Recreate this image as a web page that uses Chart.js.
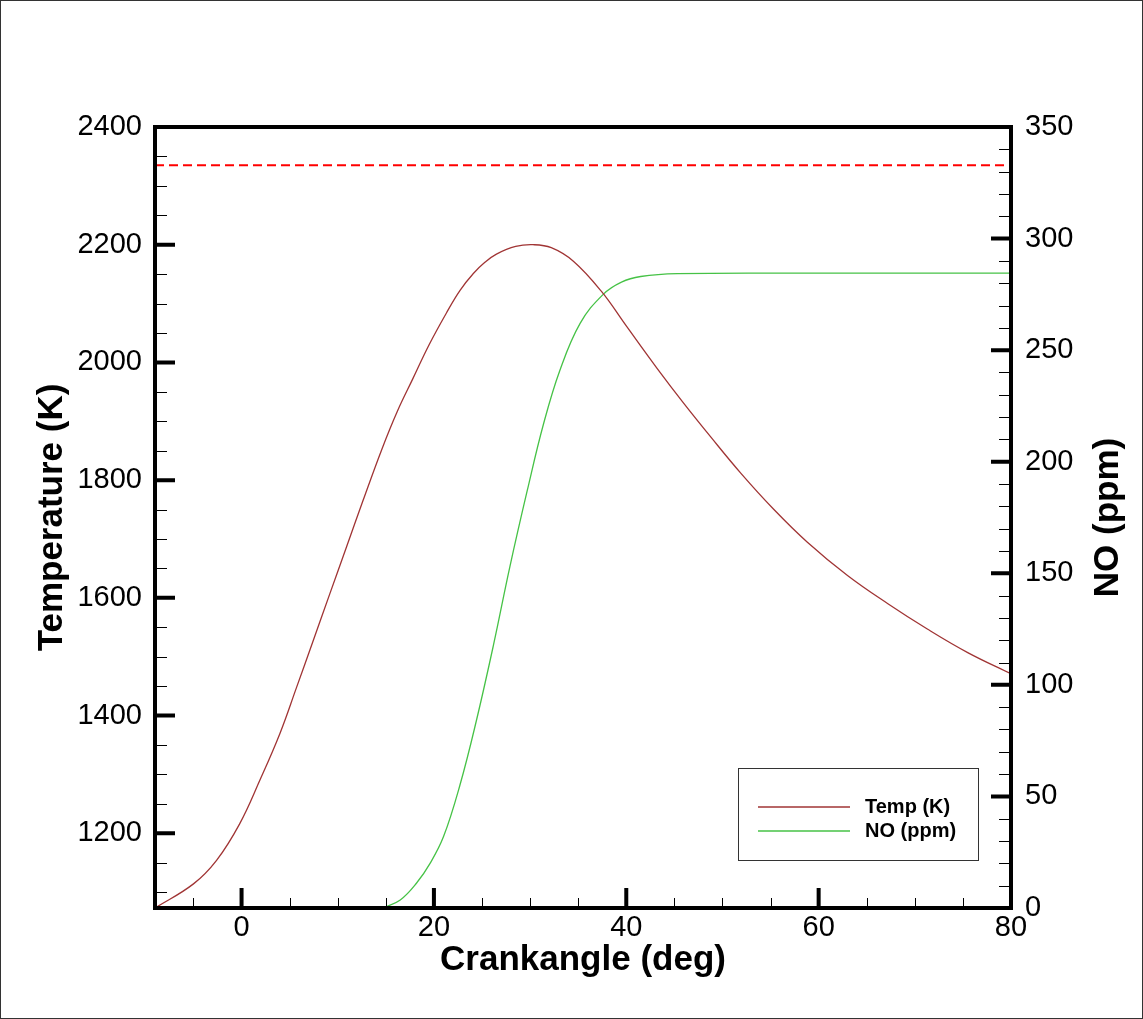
<!DOCTYPE html>
<html>
<head>
<meta charset="utf-8">
<title>Temperature and NO vs crank angle</title>
<script src="https://cdn.jsdelivr.net/npm/chart.js@4.4.1/dist/chart.umd.min.js"></script>
<style>
  html, body { margin: 0; padding: 0; background: #fff; }
  #wrap { width: 1143px; height: 1019px; }
</style>
</head>
<body>
<div id="wrap"><canvas id="chart" width="1143" height="1019"></canvas></div>
<script>
'use strict';

// ─── DATA ────────────────────────────────────────────────────────────────────
const tempAngle = [-9.0, -5.0, -2.6, -0.2, 1.9, 4.0, 5.7, 7.4, 9.2, 10.9, 12.6, 14.6, 16.2,
                   17.8, 19.5, 21.3, 22.7, 24.1, 25.3, 26.5, 28.5, 30.3, 32.2, 34.5, 37.4,
                   40.0, 43.2, 46.0, 48.8, 51.9, 55.3, 58.8, 63.0, 67.2, 71.3, 75.5, 80.0];
const tempK     = [1073, 1114, 1154, 1216, 1290, 1370, 1447, 1525, 1608, 1686, 1764, 1853, 1917,
                   1972, 2030, 2084, 2122, 2151, 2170, 2184, 2197, 2200, 2195, 2172, 2121,
                   2062, 1990, 1930, 1873, 1812, 1751, 1695, 1638, 1590, 1547, 1507, 1471];

const noAngle = [14.7, 16.5, 18.2, 19.6, 21.0, 22.7, 24.4, 26.2, 27.9, 29.7, 31.4, 33.1,
                 35.2, 37.6, 39.5, 41.5, 45.3, 60.0, 80.0];
const noPpm   = [0, 3.6, 11.2, 20, 32, 55, 83.7, 118, 153, 187, 217, 241,
                 262, 275, 280.5, 283, 284.3, 284.5, 284.5];

const flameAngle = [-9, 80];
const flameTempK = [2335, 2335];

const xTicks    = [0, 20, 40, 60, 80];
const tempTicks = [1200, 1400, 1600, 1800, 2000, 2200, 2400];
const noTicks   = [0, 50, 100, 150, 200, 250, 300, 350];

const X_TITLE    = 'Crankangle (deg)';
const TEMP_TITLE = 'Temperature (K)';
const NO_TITLE   = 'NO (ppm)';

// ─── STYLE ───────────────────────────────────────────────────────────────────
const FONT = '"Liberation Sans", Arial, Helvetica, sans-serif';
const TEMP_COLOR = '#a03434';
const NO_COLOR   = '#46c246';

function fixedTicks(values) {
  return scale => { scale.ticks = values.map(v => ({ value: v })); };
}

function toPoints(xs, ys) {
  return xs.map((x, i) => ({ x, y: ys[i] }));
}

const tickFont  = { family: FONT, size: 29 };
const titleFont = { family: FONT, size: 35, weight: 'bold' };
const noGrid    = { display: false, drawTicks: false };
const plainLabel = v => String(v);

// ─── TICKS, FRAME, RIGHT TITLE, LEGEND ───────────────────────────────────────
const decorPlugin = {
  id: 'decor',
  afterDatasetsDraw(chart) {
    const { ctx, chartArea: a, scales } = chart;
    ctx.save();
    ctx.strokeStyle = '#000';

    // minor ticks
    ctx.lineWidth = 1;
    ctx.beginPath();
    for (let v = -5; v < 80; v += 5) {
      if (v % 20 === 0) continue;
      const px = Math.round(scales.x.getPixelForValue(v)) + 0.5;
      ctx.moveTo(px, a.bottom); ctx.lineTo(px, a.bottom - 10);
    }
    for (let v = 1100; v < 2400; v += 50) {
      if (v % 200 === 0) continue;
      const py = Math.round(scales.y.getPixelForValue(v)) + 0.5;
      ctx.moveTo(a.left, py); ctx.lineTo(a.left + 12, py);
    }
    for (let v = 10; v < 350; v += 10) {
      if (v % 50 === 0) continue;
      const py = Math.round(scales.y1.getPixelForValue(v)) + 0.5;
      ctx.moveTo(a.right, py); ctx.lineTo(a.right - 12, py);
    }
    ctx.stroke();

    // major ticks
    ctx.lineWidth = 4;
    ctx.beginPath();
    xTicks.forEach(v => {
      const px = scales.x.getPixelForValue(v);
      ctx.moveTo(px, a.bottom); ctx.lineTo(px, a.bottom - 20);
    });
    tempTicks.forEach(v => {
      const py = scales.y.getPixelForValue(v);
      ctx.moveTo(a.left, py); ctx.lineTo(a.left + 20, py);
    });
    noTicks.forEach(v => {
      const py = scales.y1.getPixelForValue(v);
      ctx.moveTo(a.right, py); ctx.lineTo(a.right - 20, py);
    });
    ctx.stroke();

    // plot frame
    ctx.lineWidth = 4;
    ctx.strokeRect(a.left, a.top, a.right - a.left, a.bottom - a.top);

    // picture border
    ctx.lineWidth = 1;
    ctx.strokeStyle = '#333';
    ctx.strokeRect(0.5, 0.5, chart.width - 1, chart.height - 1);

    // right axis title, reading bottom to top like the left one
    ctx.fillStyle = '#000';
    ctx.font = `bold 35px ${FONT}`;
    ctx.textAlign = 'center';
    ctx.textBaseline = 'middle';
    ctx.save();
    ctx.translate(1108, (a.top + a.bottom) / 2);
    ctx.rotate(-Math.PI / 2);
    ctx.fillText(NO_TITLE, 0, 0);
    ctx.restore();

    // legend box
    const bx = 738.5, by = 768.5, bw = 240, bh = 92;
    ctx.fillStyle = '#fff';
    ctx.fillRect(bx, by, bw, bh);
    ctx.strokeStyle = '#333';
    ctx.lineWidth = 1;
    ctx.strokeRect(bx, by, bw, bh);
    ctx.font = `bold 20px ${FONT}`;
    ctx.textAlign = 'left';
    chart.data.datasets.filter(d => d.label).forEach((d, i) => {
      const ly = 807 + i * 24;
      ctx.strokeStyle = d.borderColor;
      ctx.lineWidth = 1.5;
      ctx.beginPath();
      ctx.moveTo(758, ly); ctx.lineTo(850, ly);
      ctx.stroke();
      ctx.fillStyle = '#000';
      ctx.fillText(d.label, 865, ly);
    });
    ctx.restore();
  }
};

// ─── CHART ───────────────────────────────────────────────────────────────────
new Chart(document.getElementById('chart'), {
  type: 'line',
  data: {
    datasets: [
      {
        label: 'Temp (K)',
        data: toPoints(tempAngle, tempK),
        borderColor: TEMP_COLOR, borderWidth: 1.3,
        pointRadius: 0, tension: 0.4,
        yAxisID: 'y'
      },
      {
        label: 'NO (ppm)',
        data: toPoints(noAngle, noPpm),
        borderColor: NO_COLOR, borderWidth: 1.3,
        pointRadius: 0, tension: 0.4,
        yAxisID: 'y1'
      },
      {
        label: '',
        data: toPoints(flameAngle, flameTempK),
        borderColor: '#ff0000', borderWidth: 2, borderDash: [9, 5],
        pointRadius: 0, yAxisID: 'y'
      }
    ]
  },
  options: {
    responsive: false,
    animation: false,
    devicePixelRatio: 1,
    layout: { padding: { top: 127, left: 0, right: 0, bottom: 0 } },
    plugins: { legend: { display: false }, tooltip: { enabled: false } },
    scales: {
      x: {
        type: 'linear', min: -9, max: 80,
        afterBuildTicks: fixedTicks(xTicks),
        afterFit: s => { s.height = 111; },
        grid: noGrid, border: { display: false },
        ticks: { color: '#000', font: tickFont, padding: 3, maxRotation: 0, autoSkip: false, callback: plainLabel },
        title: { display: true, text: X_TITLE, color: '#000', font: titleFont, padding: { bottom: 38 } }
      },
      y: {
        type: 'linear', position: 'left', min: 1073, max: 2400,
        afterBuildTicks: fixedTicks(tempTicks),
        afterFit: s => { s.width = 155; },
        grid: noGrid, border: { display: false },
        ticks: { color: '#000', font: tickFont, padding: 13, autoSkip: false, callback: plainLabel },
        title: { display: true, text: TEMP_TITLE, color: '#000', font: titleFont, padding: { top: 31 } }
      },
      y1: {
        type: 'linear', position: 'right', min: 0, max: 350,
        afterBuildTicks: fixedTicks(noTicks),
        afterFit: s => { s.width = 132; },
        grid: noGrid, border: { display: false },
        ticks: { color: '#000', font: tickFont, padding: 14, autoSkip: false, callback: plainLabel }
      }
    }
  },
  plugins: [decorPlugin]
});
</script>
</body>
</html>
